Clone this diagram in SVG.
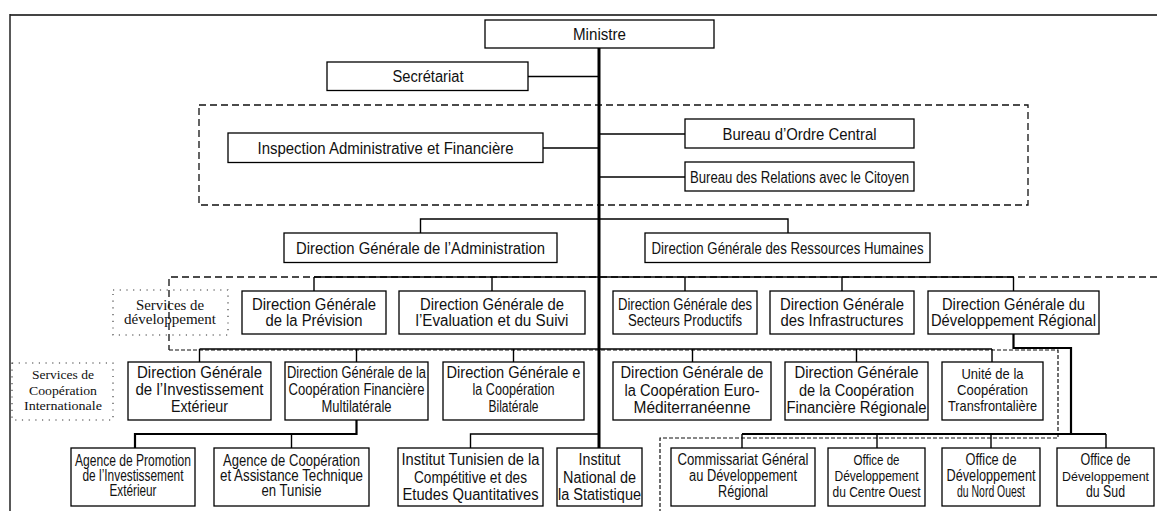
<svg xmlns="http://www.w3.org/2000/svg" width="1157" height="511" viewBox="0 0 1157 511">
  <style>
    .box { fill: #fff; stroke: #000; stroke-width: 1.3; }
    .dot { fill: none; stroke: #333; stroke-width: 1.1; stroke-dasharray: 1.2 5.5; }
    .t { font-family: "Liberation Sans Narrow", "Liberation Sans", Arial, sans-serif; font-size: 16px; text-anchor: middle; fill: #111; }
    .sm { font-size: 14.5px; }
    .xs { font-size: 13.5px; }
    .s { font-family: "Liberation Serif", "Times New Roman", serif; font-size: 14.5px; text-anchor: middle; fill: #111; }
    .s2 { font-size: 13.5px; }
    .ln { fill: none; stroke: #000; stroke-width: 1.4; }
    .thick { fill: none; stroke: #000; stroke-width: 2.2; }
    .main { fill: none; stroke: #000; stroke-width: 3; }
    .dash { fill: none; stroke: #111; stroke-width: 1.3; stroke-dasharray: 7 4; }
    .fdash { fill: none; stroke: #111; stroke-width: 1.2; stroke-dasharray: 4 2; }
  </style>
  <rect width="1157" height="511" fill="#fff"/>

  <!-- page frame -->
  <g id="frame">
    <line x1="10" y1="15" x2="1157" y2="15" stroke="#444" stroke-width="2.2"/>
    <line x1="10" y1="14" x2="10" y2="511" stroke="#222" stroke-width="1.5"/>
  </g>

  <!-- dashed groupings -->
  <g id="groupings">
    <rect class="dash" x="199" y="105" width="829" height="100"/>
    <polyline class="dash" points="1157,277 169,277 169,350"/>
    <polyline class="fdash" points="169,350 1058,350 1058,438 660,438 660,511"/>
  </g>

  <!-- connectors -->
  <g id="connectors">
    <line class="ln" x1="528" y1="76.5" x2="599" y2="76.5"/>
    <line class="ln" x1="543" y1="148" x2="599" y2="148"/>
    <line class="ln" x1="599" y1="134" x2="685" y2="134"/>
    <line class="ln" x1="599" y1="177" x2="685" y2="177"/>
    <polyline class="ln" points="420.5,233 420.5,219 788,219 788,233"/>
    <!-- development directorates -->
    <line class="ln" x1="314" y1="277" x2="1013.5" y2="277"/>
    <line class="ln" x1="314" y1="277" x2="314" y2="291"/>
    <line class="ln" x1="492" y1="277" x2="492" y2="291"/>
    <line class="ln" x1="685" y1="277" x2="685" y2="291"/>
    <line class="ln" x1="842" y1="277" x2="842" y2="291"/>
    <line class="ln" x1="1013.5" y1="277" x2="1013.5" y2="291"/>
    <!-- international cooperation directorates -->
    <line class="ln" x1="199.5" y1="349" x2="992" y2="349" stroke-width="1.7"/>
    <line class="ln" x1="199.5" y1="349" x2="199.5" y2="362"/>
    <line class="ln" x1="356.5" y1="349" x2="356.5" y2="362"/>
    <line class="ln" x1="513.5" y1="349" x2="513.5" y2="362"/>
    <line class="ln" x1="692.5" y1="349" x2="692.5" y2="362"/>
    <line class="ln" x1="856.5" y1="349" x2="856.5" y2="362"/>
    <line class="ln" x1="992" y1="349" x2="992" y2="362"/>
    <!-- agencies -->
    <polyline class="thick" points="356.5,420 356.5,434 135,434 135,448"/>
    <line class="ln" x1="291.5" y1="434" x2="291.5" y2="448"/>
    <!-- institutes -->
    <polyline class="ln" points="470.5,448 470.5,434 599,434"/>
    <!-- regional offices -->
    <polyline class="thick" points="1013.5,334 1013.5,348 1071,348 1071,434"/>
    <line class="thick" x1="742" y1="434" x2="1106" y2="434"/>
    <line class="ln" x1="742" y1="434" x2="742" y2="448"/>
    <line class="ln" x1="877" y1="434" x2="877" y2="448"/>
    <line class="ln" x1="991" y1="434" x2="991" y2="448"/>
    <line class="ln" x1="1106" y1="434" x2="1106" y2="448"/>
    <!-- main trunk -->
    <line class="main" x1="599" y1="48" x2="599" y2="448"/>
  </g>

  <g id="ministre">
    <rect class="box" x="485" y="20" width="229" height="28"/>
    <text class="t" x="599.5" y="39.5" textLength="53" lengthAdjust="spacingAndGlyphs">Ministre</text>
  </g>
  <g id="secretariat">
    <rect class="box" x="327" y="62" width="201" height="28.5"/>
    <text class="t" x="428" y="82" textLength="71" lengthAdjust="spacingAndGlyphs">Secrétariat</text>
  </g>
  <g id="inspection">
    <rect class="box" x="228" y="133" width="315" height="29.5"/>
    <text class="t" x="385.5" y="153.5" textLength="256" lengthAdjust="spacingAndGlyphs">Inspection Administrative et Financière</text>
  </g>
  <g id="bureau-ordre">
    <rect class="box" x="685" y="119" width="229" height="29"/>
    <text class="t" x="799.5" y="139.5" textLength="154" lengthAdjust="spacingAndGlyphs">Bureau d’Ordre Central</text>
  </g>
  <g id="bureau-relations">
    <rect class="box" x="685" y="162" width="229" height="29"/>
    <text class="t" x="799.5" y="182.5" textLength="219" lengthAdjust="spacingAndGlyphs">Bureau des Relations avec le Citoyen</text>
  </g>
  <g id="dg-administration">
    <rect class="box" x="284" y="233" width="273" height="29.5"/>
    <text class="t" x="420.5" y="253.5" textLength="249" lengthAdjust="spacingAndGlyphs">Direction Générale de l’Administration</text>
  </g>
  <g id="dg-rh">
    <rect class="box" x="645" y="233" width="285" height="29.5"/>
    <text class="t" x="787.5" y="253.5" textLength="272" lengthAdjust="spacingAndGlyphs">Direction Générale des Ressources Humaines</text>
  </g>

  <!-- development services -->
  <g id="services-developpement">
    <rect class="dot" x="113" y="290" width="115" height="45"/>
    <text class="s" x="170" y="310" textLength="68" lengthAdjust="spacingAndGlyphs">Services de</text>
    <text class="s" x="170" y="324" textLength="92" lengthAdjust="spacingAndGlyphs">développement</text>
  </g>
  <g id="dg-prevision">
    <rect class="box" x="242" y="291" width="144" height="43"/>
    <text class="t" x="314" y="309.5" textLength="124" lengthAdjust="spacingAndGlyphs">Direction Générale</text>
    <text class="t" x="314" y="326" textLength="97" lengthAdjust="spacingAndGlyphs">de la Prévision</text>
  </g>
  <g id="dg-evaluation">
    <rect class="box" x="399" y="291" width="186" height="43"/>
    <text class="t" x="492" y="309.5" textLength="144" lengthAdjust="spacingAndGlyphs">Direction Générale de</text>
    <text class="t" x="492" y="326" textLength="153" lengthAdjust="spacingAndGlyphs">l’Evaluation et du Suivi</text>
  </g>
  <g id="dg-secteurs">
    <rect class="box" x="613" y="291" width="144" height="43"/>
    <text class="t" x="685" y="309.5" textLength="134" lengthAdjust="spacingAndGlyphs">Direction Générale des</text>
    <text class="t" x="685" y="326" textLength="114" lengthAdjust="spacingAndGlyphs">Secteurs Productifs</text>
  </g>
  <g id="dg-infrastructures">
    <rect class="box" x="770" y="291" width="144" height="43"/>
    <text class="t" x="842" y="309.5" textLength="124" lengthAdjust="spacingAndGlyphs">Direction Générale</text>
    <text class="t" x="842" y="326" textLength="123" lengthAdjust="spacingAndGlyphs">des Infrastructures</text>
  </g>
  <g id="dg-developpement-regional">
    <rect class="box" x="928" y="291" width="171" height="43"/>
    <text class="t" x="1013.5" y="309.5" textLength="143" lengthAdjust="spacingAndGlyphs">Direction Générale du</text>
    <text class="t" x="1013.5" y="326" textLength="165" lengthAdjust="spacingAndGlyphs">Développement Régional</text>
  </g>

  <!-- international cooperation services -->
  <g id="services-cooperation">
    <rect class="dot" x="12" y="363" width="101" height="57"/>
    <text class="s s2" x="63" y="379" textLength="62" lengthAdjust="spacingAndGlyphs">Services de</text>
    <text class="s s2" x="63" y="395" textLength="68" lengthAdjust="spacingAndGlyphs">Coopération</text>
    <text class="s s2" x="63" y="410" textLength="78" lengthAdjust="spacingAndGlyphs">Internationale</text>
  </g>
  <g id="dg-investissement">
    <rect class="box" x="128" y="362" width="143" height="58"/>
    <text class="t" x="199.5" y="378" textLength="125" lengthAdjust="spacingAndGlyphs">Direction Générale</text>
    <text class="t" x="199.5" y="395" textLength="128" lengthAdjust="spacingAndGlyphs">de l’Investissement</text>
    <text class="t" x="199.5" y="412" textLength="57" lengthAdjust="spacingAndGlyphs">Extérieur</text>
  </g>
  <g id="dg-multilaterale">
    <rect class="box" x="285" y="362" width="143" height="58"/>
    <text class="t" x="356.5" y="378" textLength="139" lengthAdjust="spacingAndGlyphs">Direction Générale de la</text>
    <text class="t" x="356.5" y="395" textLength="136" lengthAdjust="spacingAndGlyphs">Coopération Financière</text>
    <text class="t" x="356.5" y="412" textLength="70" lengthAdjust="spacingAndGlyphs">Multilatérale</text>
  </g>
  <g id="dg-bilaterale">
    <rect class="box" x="443" y="362" width="141" height="58"/>
    <text class="t" x="513.5" y="378" textLength="134" lengthAdjust="spacingAndGlyphs">Direction Générale e</text>
    <text class="t" x="513.5" y="395" textLength="82" lengthAdjust="spacingAndGlyphs">la Coopération</text>
    <text class="t" x="513.5" y="412" textLength="50" lengthAdjust="spacingAndGlyphs">Bilatérale</text>
  </g>
  <g id="dg-euro-med">
    <rect class="box" x="613" y="362" width="158" height="58"/>
    <text class="t" x="692" y="378" textLength="143" lengthAdjust="spacingAndGlyphs">Direction Générale de</text>
    <text class="t" x="692" y="395.5" textLength="135" lengthAdjust="spacingAndGlyphs">la Coopération Euro-</text>
    <text class="t" x="692" y="412.5" textLength="117" lengthAdjust="spacingAndGlyphs">Méditerranéenne</text>
  </g>
  <g id="dg-financiere-regionale">
    <rect class="box" x="785" y="362" width="143" height="58"/>
    <text class="t" x="856.5" y="378" textLength="124" lengthAdjust="spacingAndGlyphs">Direction Générale</text>
    <text class="t" x="856.5" y="395.5" textLength="115" lengthAdjust="spacingAndGlyphs">de la Coopération</text>
    <text class="t" x="856.5" y="412.5" textLength="140" lengthAdjust="spacingAndGlyphs">Financière Régionale</text>
  </g>
  <g id="unite-transfrontaliere">
    <rect class="box" x="942" y="362" width="101" height="58"/>
    <text class="t sm" x="992.5" y="379" textLength="62" lengthAdjust="spacingAndGlyphs">Unité de la</text>
    <text class="t sm" x="992.5" y="395" textLength="71" lengthAdjust="spacingAndGlyphs">Coopération</text>
    <text class="t sm" x="992.5" y="410.5" textLength="89" lengthAdjust="spacingAndGlyphs">Transfrontalière</text>
  </g>

  <!-- agencies and institutes -->
  <g id="agence-promotion">
    <rect class="box" x="71" y="448" width="124" height="58"/>
    <text class="t" x="133" y="466" textLength="116" lengthAdjust="spacingAndGlyphs">Agence de Promotion</text>
    <text class="t" x="133" y="481" textLength="101" lengthAdjust="spacingAndGlyphs">de l’Investissement</text>
    <text class="t" x="133" y="496" textLength="47" lengthAdjust="spacingAndGlyphs">Extérieur</text>
  </g>
  <g id="agence-cooperation">
    <rect class="box" x="214" y="448" width="155" height="58"/>
    <text class="t" x="291.5" y="466" textLength="137" lengthAdjust="spacingAndGlyphs">Agence de Coopération</text>
    <text class="t" x="291.5" y="481" textLength="143" lengthAdjust="spacingAndGlyphs">et Assistance Technique</text>
    <text class="t" x="291.5" y="496" textLength="60" lengthAdjust="spacingAndGlyphs">en Tunisie</text>
  </g>
  <g id="institut-competitivite">
    <rect class="box" x="398" y="448" width="145" height="58"/>
    <text class="t" x="470.5" y="464.5" textLength="138" lengthAdjust="spacingAndGlyphs">Institut Tunisien de la</text>
    <text class="t" x="470.5" y="482.5" textLength="113" lengthAdjust="spacingAndGlyphs">Compétitive et des</text>
    <text class="t" x="470.5" y="500" textLength="136" lengthAdjust="spacingAndGlyphs">Etudes Quantitatives</text>
  </g>
  <g id="institut-statistique">
    <rect class="box" x="557" y="448" width="85" height="58"/>
    <text class="t" x="599.5" y="464.5" textLength="42" lengthAdjust="spacingAndGlyphs">Institut</text>
    <text class="t" x="599.5" y="482.5" textLength="73" lengthAdjust="spacingAndGlyphs">National de</text>
    <text class="t" x="599.5" y="500" textLength="83" lengthAdjust="spacingAndGlyphs">la Statistique</text>
  </g>

  <!-- regional development bodies -->
  <g id="commissariat-regional">
    <rect class="box" x="671" y="448" width="144" height="58"/>
    <text class="t" x="743" y="465" textLength="131" lengthAdjust="spacingAndGlyphs">Commissariat Général</text>
    <text class="t" x="743" y="481" textLength="108" lengthAdjust="spacingAndGlyphs">au Développement</text>
    <text class="t" x="743" y="497" textLength="50" lengthAdjust="spacingAndGlyphs">Régional</text>
  </g>
  <g id="office-centre-ouest">
    <rect class="box" x="828" y="448" width="97" height="58"/>
    <text class="t sm" x="876.5" y="465" textLength="46" lengthAdjust="spacingAndGlyphs">Office de</text>
    <text class="t sm" x="876.5" y="481" textLength="84" lengthAdjust="spacingAndGlyphs">Développement</text>
    <text class="t sm" x="876.5" y="497" textLength="88" lengthAdjust="spacingAndGlyphs">du Centre Ouest</text>
  </g>
  <g id="office-nord-ouest">
    <rect class="box" x="942" y="448" width="98" height="58"/>
    <text class="t" x="991" y="465" textLength="51" lengthAdjust="spacingAndGlyphs">Office de</text>
    <text class="t" x="991" y="481" textLength="89" lengthAdjust="spacingAndGlyphs">Développement</text>
    <text class="t" x="991" y="497" textLength="68" lengthAdjust="spacingAndGlyphs">du Nord Ouest</text>
  </g>
  <g id="office-sud">
    <rect class="box" x="1057" y="448" width="97" height="58"/>
    <text class="t" x="1105.5" y="465" textLength="50" lengthAdjust="spacingAndGlyphs">Office de</text>
    <text class="t xs" x="1105.5" y="481" textLength="87" lengthAdjust="spacingAndGlyphs">Développement</text>
    <text class="t" x="1105.5" y="497" textLength="39" lengthAdjust="spacingAndGlyphs">du Sud</text>
  </g>
</svg>
